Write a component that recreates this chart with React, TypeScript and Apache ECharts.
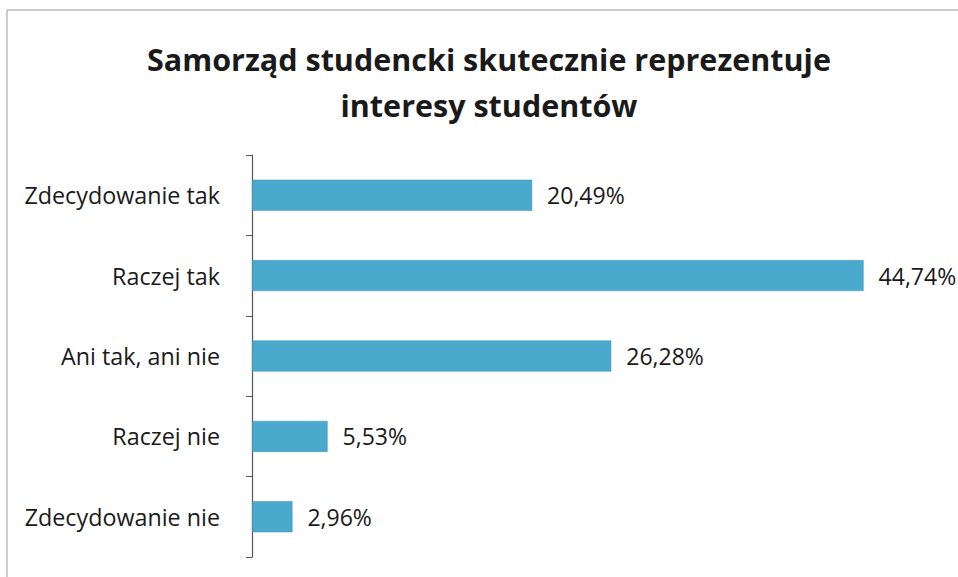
import React, { useEffect, useRef } from "react";
import * as echarts from "echarts";

const categories = ["Zdecydowanie tak", "Raczej tak", "Ani tak, ani nie", "Raczej nie", "Zdecydowanie nie"];
const values = [20.49, 44.74, 26.28, 5.53, 2.96];
const valueLabels = ["20,49%", "44,74%", "26,28%", "5,53%", "2,96%"];

export default function App() {
  const ref = useRef<HTMLDivElement>(null);
  useEffect(() => {
    if (!ref.current) return;
    const chart = echarts.init(ref.current, null, { renderer: "svg" });
    chart.setOption({
      animation: false,
      backgroundColor: "#ffffff",
      title: {
        text: "Samorząd studencki skutecznie reprezentuje\ninteresy studentów",
        left: 484,
        textAlign: "center",
        top: 31,
        textStyle: {
          fontFamily: "Open Sans",
          fontWeight: "bold",
          fontSize: 30.5,
          lineHeight: 46,
          color: "#1a1a1a",
        },
      },
      graphic: [
        {
          type: "rect",
          shape: { x: 7, y: 10, width: 1000, height: 700 },
          style: { fill: "none", stroke: "#9a9a9a", lineWidth: 1 },
          silent: true,
        },
      ],
      grid: { left: 252, right: 22.5, top: 155, bottom: 20, containLabel: false },
      xAxis: {
        type: "value",
        min: 0,
        max: 50,
        show: false,
      },
      yAxis: {
        type: "category",
        inverse: true,
        data: categories,
        axisLine: { show: true, lineStyle: { color: "#555555", width: 1.2 } },
        axisTick: { show: true, length: 6, lineStyle: { color: "#555555" } },
        axisLabel: {
          margin: 32,
          fontFamily: "Open Sans",
          fontSize: 23.3,
          color: "#1a1a1a",
        },
        splitLine: { show: false },
      },
      series: [
        {
          type: "bar",
          data: values,
          barWidth: "38.5%",
          itemStyle: { color: "#4aa9cc", borderColor: "#3f93b5", borderWidth: 0.5 },
          label: {
            show: true,
            position: "right",
            distance: 15,
            fontFamily: "Open Sans",
            fontSize: 23,
            color: "#1a1a1a",
            formatter: (p: any) => valueLabels[p.dataIndex],
          },
        },
      ],
    });
    return () => chart.dispose();
  }, []);
  return <div ref={ref} style={{ position: "fixed", left: 0, top: 0, width: 958, height: 577 }} />;
}
